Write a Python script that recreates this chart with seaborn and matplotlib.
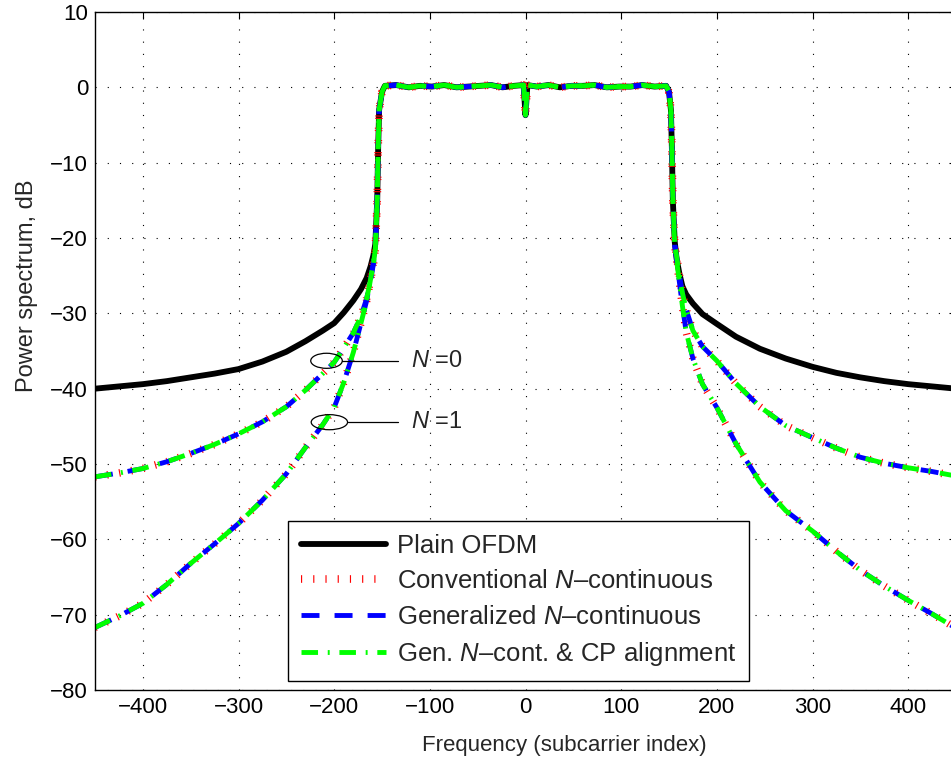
import matplotlib
matplotlib.use("Agg")
import matplotlib.pyplot as plt
from matplotlib.patches import Ellipse
import seaborn as sns

# subcarrier index of the read-off points
left_x = [-450, -425, -400, -375, -350, -325, -300, -275, -250, -230, -212, -200,
          -190, -180, -172, -166, -162, -159, -157, -155, -154, -153]
inband_x = [-150, -147, -135, -122, -110, -98, -85, -72, -60, -48, -36, -24, -12, -2, 0, 2,
            12, 24, 36, 48, 60, 72, 85, 98, 110, 122, 135, 147, 150]
right_x = [152, 153, 154, 156, 158, 161, 164, 168, 175, 185, 200, 220, 245, 272, 300,
           325, 350, 375, 400, 425, 450]

# in-band level (dB), same for every scheme
inband_db = [-0.6, 0.2, 0.3, 0.0, 0.2, 0.1, 0.3, 0.0, 0.1, 0.2, 0.3, 0.0, 0.2, 0.3, -3.7, 0.3,
             0.1, 0.3, 0.0, 0.2, 0.2, 0.3, 0.0, 0.1, 0.1, 0.3, 0.1, 0.2, -0.6]

# plain OFDM
plain_left = [-40.0, -39.7, -39.4, -39.0, -38.5, -38.0, -37.4, -36.4, -35.1, -33.7, -32.3, -31.3,
              -29.9, -28.3, -26.8, -25.3, -23.8, -22.3, -20.8, -15, -8, -3]
plain_right = [-3, -8, -15, -20.5, -22.8, -24.8, -26.4, -27.5, -28.7, -30.1, -31.4, -33.1, -34.7,
               -36.0, -37.1, -37.9, -38.5, -39.0, -39.4, -39.7, -40.0]

# N-continuous, N = 0
n0_left = [-51.7, -51.2, -50.6, -49.7, -48.6, -47.4, -46.0, -44.4, -42.4, -40.2, -38.0, -36.5,
           -34.6, -32.6, -30.4, -28.0, -25.6, -23.5, -21.5, -15, -8, -3]
n0_right = [-3, -8, -15, -20.8, -22.5, -25.0, -27.3, -29.5, -32.3, -34.4, -36.3, -39.3, -42.4,
            -44.9, -46.5, -47.9, -49.1, -49.9, -50.5, -51.0, -51.6]

# N-continuous, N = 1
n1_left = [-71.7, -70.2, -68.5, -66.0, -63.2, -60.6, -57.9, -54.8, -51.3, -47.8, -44.8, -42.5,
           -39.2, -35.2, -31.3, -28.3, -25.5, -23.2, -21.5, -15, -8, -3]
n1_right = [-3, -8, -15, -21.0, -23.0, -26.0, -29.0, -32.5, -36.0, -39.4, -42.5, -47.3, -52.4,
            -56.2, -58.9, -61.6, -64.1, -66.2, -68.1, -69.9, -71.8]

labels = ['Plain OFDM',
          r'Conventional $\mathit{N}$–continuous',
          r'Generalized $\mathit{N}$–continuous',
          r'Gen. $\mathit{N}$–cont. & CP alignment']

freq = left_x + inband_x + right_x
plain = plain_left + inband_db + plain_right
n0 = n0_left + inband_db + n0_right
n1 = n1_left + inband_db + n1_right

sns.set_style("white")
plt.rcParams['font.family'] = ['Liberation Sans', 'DejaVu Sans']
plt.rcParams['mathtext.fontset'] = 'custom'
plt.rcParams['mathtext.rm'] = 'Liberation Sans'
plt.rcParams['mathtext.it'] = 'Liberation Sans:italic'

fig = plt.figure(figsize=(9.51, 7.65), dpi=100)
ax = fig.add_axes([95 / 951, 75 / 765, 861 / 951, 678 / 765])

styles = [
    dict(color='black', lw=4.2, linestyle='-'),
    dict(color='red', lw=5.5, linestyle=(0, (0.15, 1.45)), dash_capstyle='butt'),
    dict(color='blue', lw=3.5, linestyle=(0, (3.7, 3.1)), dash_capstyle='butt'),
    dict(color='#00ff00', lw=3.5, linestyle=(0, (3.4, 2.0, 0.4, 2.0)), dash_capstyle='butt'),
]

handles = []
sns.lineplot(x=freq, y=plain, ax=ax, estimator=None, sort=False, **styles[0])
handles.append(ax.lines[-1])
for st in styles[1:]:
    for curve in (n0, n1):
        sns.lineplot(x=freq, y=curve, ax=ax, estimator=None, sort=False, **st)
    handles.append(ax.lines[-2])

ax.set_xlim(-450, 450)
ax.set_ylim(-80, 10)
ax.set_xticks(range(-400, 401, 100))
ax.set_yticks(range(-80, 11, 10))
ax.tick_params(direction='in', length=5, width=0.8, labelsize=16, pad=5,
               top=True, right=True, colors='black')
for s in ax.spines.values():
    s.set_color('black')
    s.set_linewidth(1.0)
ax.grid(True, color='black', linestyle=(0, (1, 10)), linewidth=0.8)

ax.set_xlabel('Frequency (subcarrier index)', fontsize=16)
ax.set_ylabel('Power spectrum, dB', fontsize=17)
ax.xaxis.set_label_coords(0.545, -0.066)
ax.yaxis.set_label_coords(-0.066, 0.596)

# N=0 / N=1 markers
for (cx, cy, w), txt in zip([(-208, -36.3, 33), (-205, -44.45, 38)], [r'$\mathit{N}$ =0', r'$\mathit{N}$ =1']):
    ax.add_patch(Ellipse((cx, cy), w, 2.0, fill=False, ec='black', lw=0.9, zorder=5))
    ax.plot([cx + w / 2, -133], [cy, cy], color='black', lw=0.9, zorder=5)
    ax.text(-120, cy, txt, fontsize=17, ha='left', va='center')

leg = ax.legend(handles, labels, loc='lower left', bbox_to_anchor=(0.224, 0.013),
                borderaxespad=0, fontsize=18.5, handlelength=3.3, handletextpad=0.45,
                borderpad=0.5, labelspacing=0.45, fancybox=False, framealpha=1,
                edgecolor='black')
leg.get_frame().set_linewidth(1.0)

fig.savefig('out.png', dpi=100)
